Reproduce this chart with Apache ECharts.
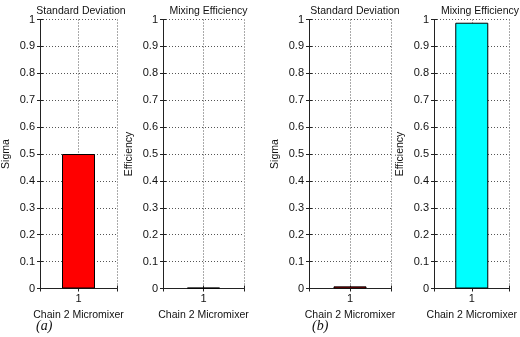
<!DOCTYPE html>
<html>
<head>
<meta charset="utf-8">
<script src="https://cdn.jsdelivr.net/npm/echarts@6/dist/echarts.min.js"></script>
</head>
<body style="margin:0;background:#fff">
<div id="chart" style="width:520px;height:337px"></div>
<script>
var categories = ['1']
var xName = 'Chain 2 Micromixer'
var panelTitles = ['Standard Deviation', 'Mixing Efficiency', 'Standard Deviation', 'Mixing Efficiency']
var yNames = ['Sigma', 'Efficiency', 'Sigma', 'Efficiency']
var yTickLabels = ['0', '0.1', '0.2', '0.3', '0.4', '0.5', '0.6', '0.7', '0.8', '0.9', '1']
var sigmaA = [0.5]
var efficiencyA = [0.003]
var sigmaB = [0.008]
var efficiencyB = [0.988]
var panelData = [sigmaA, efficiencyA, sigmaB, efficiencyB]
var barColors = ['#ff0000', '#00ffff', '#ff0000', '#00ffff']
var panelLabels = ['(a)', '(b)']

var font = 'Liberation Sans, Arial, sans-serif'
var lefts = [35, 163, 309, 434]
var widths = [82, 81, 82, 82]

var chart = echarts.init(document.getElementById('chart'))

var grids = []
var xAxes = []
var yAxes = []
var series = []
var titles = []

for (let i = 0; i < 4; i++) {
  grids.push({ left: lefts[i], top: 19.5, width: widths[i], height: 269 })
  // bottom axis
  xAxes.push({
    gridIndex: i,
    type: 'value',
    min: 0,
    max: 2,
    interval: 1,
    name: xName,
    nameLocation: 'middle',
    nameGap: 19,
    nameTextStyle: { fontFamily: font, fontSize: 10.5, color: '#111' },
    axisLine: { lineStyle: { color: '#222', width: 1 } },
    axisTick: { inside: true, length: 3, lineStyle: { color: '#222' } },
    axisLabel: {
      fontFamily: font,
      fontSize: 11,
      color: '#111',
      margin: 5,
      formatter: function (v) {
        return v === 1 ? categories[0] : ''
      }
    },
    //网格线
    splitLine: { show: true, lineStyle: { type: [1, 2], color: '#555' } }
  })
  // top mirror axis
  xAxes.push({
    gridIndex: i,
    type: 'value',
    position: 'top',
    min: 0,
    max: 2,
    interval: 1,
    axisLine: { lineStyle: { color: '#222', width: 1 } },
    axisTick: { inside: true, length: 3, lineStyle: { color: '#222' } },
    axisLabel: { show: false },
    splitLine: { show: false }
  })
  yAxes.push({
    gridIndex: i,
    type: 'value',
    min: 0,
    max: 1,
    interval: 0.1,
    name: yNames[i],
    nameLocation: 'middle',
    nameGap: 28,
    nameTextStyle: { fontFamily: font, fontSize: 10.5, color: '#111' },
    axisLine: { show: true, lineStyle: { color: '#222', width: 1 } },
    axisTick: { show: true, inside: true, length: 3, lineStyle: { color: '#222' } },
    axisLabel: {
      fontFamily: font,
      fontSize: 11,
      color: '#111',
      margin: 5,
      formatter: function (v) {
        return yTickLabels[Math.round(v * 10)]
      }
    },
    splitLine: { show: true, lineStyle: { type: [1, 2], color: '#555' } }
  })
  // right mirror axis
  yAxes.push({
    gridIndex: i,
    type: 'value',
    position: 'right',
    min: 0,
    max: 1,
    interval: 0.1,
    axisLine: { show: true, lineStyle: { color: '#222', width: 1 } },
    axisTick: { show: true, inside: true, length: 3, lineStyle: { color: '#222' } },
    axisLabel: { show: false },
    splitLine: { show: false }
  })
  series.push({
    type: 'bar',
    xAxisIndex: i * 2,
    yAxisIndex: i * 2,
    barWidth: 33,
    itemStyle: { color: barColors[i], borderColor: '#000', borderWidth: 1 },
    data: panelData[i].map(function (v) { return [1, v] }),
    z: 1
  })
  titles.push({
    text: panelTitles[i],
    left: lefts[i] + widths[i] / 2,
    top: 1,
    textAlign: 'center',
    textStyle: { fontFamily: font, fontSize: 10.5, fontWeight: 'normal', color: '#111' }
  })
}

titles.push({
  text: panelLabels[0],
  left: 31,
  top: 314,
  textStyle: { fontFamily: 'Liberation Serif, serif', fontStyle: 'italic', fontSize: 14, fontWeight: 'normal', color: '#111' }
})
titles.push({
  text: panelLabels[1],
  left: 307,
  top: 314,
  textStyle: { fontFamily: 'Liberation Serif, serif', fontStyle: 'italic', fontSize: 14, fontWeight: 'normal', color: '#111' }
})

chart.setOption({
  animation: false,
  backgroundColor: '#fff',
  title: titles,
  grid: grids,
  xAxis: xAxes,
  yAxis: yAxes,
  series: series
})
</script>
</body>
</html>
